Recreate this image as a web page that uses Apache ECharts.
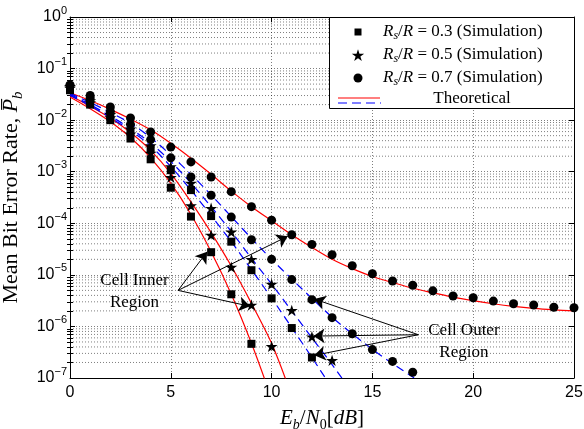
<!DOCTYPE html>
<html>
<head>
<meta charset="utf-8">
<script src="https://cdn.jsdelivr.net/npm/echarts@6/dist/echarts.min.js"></script>
<style>
  html, body { margin: 0; padding: 0; background: #fff; }
  #chart { width: 584px; height: 429px; }
</style>
</head>
<body>
<div id="chart"></div>
<script>
// Eb/N0 [dB]
const ebn0 = [0, 1, 2, 3, 4, 5, 6, 7, 8, 9, 10, 11, 12, 13, 14, 15, 16, 17, 18, 19, 20, 21, 22, 23, 24, 25];

// simulated mean BER, one list per Rs/R and cell region
const sim03Inner = [3.8e-2, 2.0e-2, 1.0e-2, 4.4e-3, 1.74e-3, 4.9e-4, 1.35e-4, 2.75e-5, 4.2e-6, 4.6e-7];
const sim03Outer = [4.3e-2, 2.3e-2, 1.2e-2, 6.0e-3, 2.75e-3, 1.07e-3, 4.4e-4, 1.38e-4, 4.4e-5, 1.23e-5, 3.5e-6, 9.3e-7, 2.5e-7];
const sim05Inner = [4.2e-2, 2.2e-2, 1.12e-2, 5.4e-3, 2.3e-3, 7.8e-4, 2.2e-4, 5.9e-5, 1.41e-5, 2.6e-6, 4.1e-7];
const sim05Outer = [4.5e-2, 2.4e-2, 1.29e-2, 6.8e-3, 3.2e-3, 1.26e-3, 6.0e-4, 1.95e-4, 6.8e-5, 2.0e-5, 6.6e-6, 2.05e-6, 6.3e-7, 2.2e-7];
const sim07Inner = [4.8e-2, 3.0e-2, 1.8e-2, 1.1e-2, 5.9e-3, 3.0e-3, 1.55e-3, 7.9e-4, 4.1e-4, 2.1e-4, 1.15e-4, 6.0e-5, 3.9e-5, 2.45e-5, 1.5e-5, 1.05e-5, 7.6e-6, 6.3e-6, 4.9e-6, 3.9e-6, 3.6e-6, 3.1e-6, 2.75e-6, 2.6e-6, 2.35e-6, 2.3e-6];
const sim07Outer = [4.7e-2, 2.7e-2, 1.48e-2, 8.3e-3, 4.2e-3, 1.86e-3, 7.9e-4, 3.5e-4, 1.32e-4, 4.8e-5, 2.0e-5, 8.1e-6, 3.3e-6, 1.48e-6, 7.2e-7, 3.55e-7, 2.1e-7, 1.29e-7];

// theoretical curves (red = inner, blue dashed = outer)
const theo03Inner = [2.8e-2, 1.66e-2, 9.3e-3, 4.6e-3, 1.86e-3, 6.0e-4, 1.48e-4, 2.8e-5, 4.2e-6, 4.7e-7, 4.0e-8];
const theo05Inner = [3.0e-2, 1.86e-2, 1.1e-2, 5.75e-3, 2.6e-3, 9.3e-4, 2.6e-4, 6.6e-5, 1.48e-5, 2.8e-6, 4.7e-7, 4.5e-8];
const theo07Inner = [3.4e-2, 2.4e-2, 1.62e-2, 1.05e-2, 6.5e-3, 3.55e-3, 1.82e-3, 8.9e-4, 4.2e-4, 2.1e-4, 1.12e-4, 6.0e-5, 3.4e-5, 2.0e-5, 1.32e-5, 9.3e-6, 7.1e-6, 5.5e-6, 4.5e-6, 3.7e-6, 3.16e-6, 2.75e-6, 2.45e-6, 2.24e-6, 2.1e-6, 2.0e-6];
const theo03Outer = [3.0e-2, 1.9e-2, 1.12e-2, 6.3e-3, 3.16e-3, 1.26e-3, 4.4e-4, 1.41e-4, 4.4e-5, 1.26e-5, 3.55e-6, 9.5e-7, 2.5e-7, 6.3e-8];
const theo05Outer = [3.16e-2, 2.0e-2, 1.2e-2, 6.9e-3, 3.6e-3, 1.58e-3, 6.0e-4, 2.1e-4, 6.9e-5, 2.1e-5, 6.6e-6, 2.0e-6, 6.0e-7, 1.82e-7, 5.2e-8];
const theo07Outer = [3.3e-2, 2.2e-2, 1.41e-2, 8.7e-3, 4.6e-3, 2.1e-3, 8.9e-4, 3.55e-4, 1.35e-4, 5.1e-5, 2.0e-5, 8.3e-6, 3.5e-6, 1.51e-6, 7.2e-7, 3.6e-7, 1.9e-7, 1.05e-7, 5.8e-8];

// axes
const xMin = 0, xMax = 25, xStep = 5;
const yMin = 1e-7, yMax = 1;
const yDecades = [-7, -6, -5, -4, -3, -2, -1, 0];

// annotations, in data units
const innerArrowFrom = [5.36, 5.0e-6];
const innerArrowTo = [[6.8, 2.8e-5], [10.8, 5.6e-5], [8.93, 2.45e-6]];
const outerArrowFrom = [17.28, 6.9e-7];
const outerArrowTo = [[12.12, 3.4e-6], [12.08, 6.5e-7], [12.12, 2.75e-7]];
const innerLabelAt = [3.2, 4.8e-6];
const outerLabelAt = [19.54, 5.0e-7];

const SERIF = 'Liberation Serif';
const SANS = 'Liberation Sans';
const STAR = 'path://M50 0 L61.23 34.55 L97.55 34.55 L68.17 55.9 L79.39 90.45 L50 69.1 L20.61 90.45 L31.83 55.9 L2.45 34.55 L38.77 34.55 Z';

function pts(vals) {
  return vals.map((v, i) => [ebn0[i], v]);
}

// minor log ticks 2..9 in every decade
const minorVals = [];
yDecades.slice(0, -1).forEach(d => {
  for (let m = 2; m <= 9; m++) minorVals.push(m * Math.pow(10, d));
});
// minor grid as broken horizontal segments across the x range
const minorGridData = [];
minorVals.forEach(v => {
  minorGridData.push([xMin, v], [xMax, v], [xMax, '-']);
});

const gridDot = { color: '#000', width: 1, type: [1, 2], opacity: 0.5 };

function theo(name, vals, color, dashed) {
  return {
    name: name, type: 'line', data: pts(vals), showSymbol: false, smooth: 0.3,
    clip: true, z: 2, silent: true,
    lineStyle: { color: color, width: 1.2, type: dashed ? [8, 5] : 'solid' }
  };
}
function sim(name, vals, symbol, size) {
  return {
    name: name, type: 'scatter', data: pts(vals), symbol: symbol, symbolSize: size,
    symbolKeepAspect: true, z: 3, silent: true,
    itemStyle: { color: '#000', opacity: 1 }
  };
}

const tickRich = {
  b: { fontSize: 16, fontFamily: SANS, color: '#000', lineHeight: 24, verticalAlign: 'middle' },
  e: { fontSize: 11, fontFamily: SANS, color: '#000', lineHeight: 10, verticalAlign: 'top' }
};
function nameRich(size) {
  const sub = Math.round(size * 0.68);
  return {
    n: { fontSize: size, fontFamily: SERIF, color: '#000', lineHeight: size + 7 },
    i: { fontSize: size, fontFamily: SERIF, fontStyle: 'italic', color: '#000', lineHeight: size + 7 },
    s: { fontSize: sub, fontFamily: SERIF, fontStyle: 'italic', color: '#000', lineHeight: sub + 4, verticalAlign: 'bottom' },
    s0: { fontSize: sub, fontFamily: SERIF, color: '#000', lineHeight: sub + 4, verticalAlign: 'bottom' }
  };
}

const chart = echarts.init(document.getElementById('chart'), null, { renderer: 'canvas' });

const arrowLines = [];
innerArrowTo.forEach(t => arrowLines.push([{ coord: innerArrowFrom }, { coord: t }]));
outerArrowTo.forEach(t => arrowLines.push([{ coord: outerArrowFrom }, { coord: t }]));

function yAxisBase(pos) {
  return {
    type: 'log', logBase: 10, min: yMin, max: yMax, position: pos, splitNumber: 7,
    axisLine: { show: true, onZero: false, lineStyle: { color: '#000', width: 1 } },
    axisLabel: { show: false },
    splitLine: { show: false }
  };
}

const option = {
  backgroundColor: '#fff',
  animation: false,
  grid: { left: 70, right: 10, top: 17, bottom: 51, containLabel: false, outerBoundsMode: 'none' },
  xAxis: [
    {
      type: 'value', min: xMin, max: xMax, interval: xStep, position: 'bottom',
      axisLine: { onZero: false, lineStyle: { color: '#000', width: 1 } },
      axisTick: { inside: true, length: 5, lineStyle: { color: '#000' } },
      axisLabel: { color: '#000', fontSize: 16, fontFamily: SANS, margin: 7 },
      splitLine: { show: true, lineStyle: gridDot },
      name: '{i|E}{s|b}{n|/}{i|N}{s0|0}{n|[}{i|dB}{n|]}',
      nameLocation: 'middle', nameGap: 26,
      nameTextStyle: { rich: nameRich(21) }
    },
    {
      type: 'value', min: xMin, max: xMax, interval: xStep, position: 'top',
      axisLine: { onZero: false, lineStyle: { color: '#000', width: 1 } },
      axisTick: { inside: true, length: 5, lineStyle: { color: '#000' } },
      axisLabel: { show: false },
      splitLine: { show: false }
    }
  ],
  yAxis: [
    Object.assign(yAxisBase('left'), {
      axisTick: { inside: true, length: 5, lineStyle: { color: '#000' } },
      axisLabel: {
        show: true, margin: 3, color: '#000',
        formatter: v => {
          const e = Math.round(Math.log10(v));
          return '{b|10}{e|' + (e < 0 ? '\u2212' + (-e) : e) + '}';
        },
        rich: tickRich
      },
      splitLine: { show: true, lineStyle: gridDot },
      name: '{n|Mean Bit Error Rate, }{i|P\u0305}{s|b}',
      nameLocation: 'middle', nameGap: 29, nameRotate: 90,
      nameTextStyle: { rich: nameRich(22) }
    }),
    Object.assign(yAxisBase('left'), {
      axisLine: { show: false },
      axisTick: { inside: true, length: 3, customValues: minorVals, lineStyle: { color: '#000' } }
    }),
    Object.assign(yAxisBase('right'), {
      axisTick: { inside: true, length: 5, lineStyle: { color: '#000' } }
    }),
    Object.assign(yAxisBase('right'), {
      axisLine: { show: false },
      axisTick: { inside: true, length: 3, customValues: minorVals, lineStyle: { color: '#000' } }
    })
  ],
  series: [
    {
      name: 'minorGrid', type: 'line', data: minorGridData, silent: true, z: 1,
      showSymbol: false, connectNulls: false, clip: true,
      lineStyle: gridDot
    },
    theo('theo03Inner', theo03Inner, '#ff0000', false),
    theo('theo05Inner', theo05Inner, '#ff0000', false),
    theo('theo07Inner', theo07Inner, '#ff0000', false),
    theo('theo03Outer', theo03Outer, '#0000ff', true),
    theo('theo05Outer', theo05Outer, '#0000ff', true),
    theo('theo07Outer', theo07Outer, '#0000ff', true),
    sim('sim03Inner', sim03Inner, 'rect', 8),
    sim('sim03Outer', sim03Outer, 'rect', 8),
    sim('sim05Inner', sim05Inner, STAR, 12),
    sim('sim05Outer', sim05Outer, STAR, 12),
    sim('sim07Inner', sim07Inner, 'circle', 9),
    sim('sim07Outer', sim07Outer, 'circle', 9),
    {
      name: 'notes', type: 'line', data: [], silent: true, z: 5,
      markLine: {
        silent: true, animation: false,
        symbol: ['none', 'arrow'], symbolSize: 11,
        label: { show: false },
        lineStyle: { color: '#000', width: 1, type: 'solid' },
        data: arrowLines
      },
      markPoint: {
        silent: true, animation: false,
        symbol: 'rect', symbolSize: 1,
        itemStyle: { color: 'rgba(0,0,0,0)' },
        label: {
          show: true, position: 'inside', color: '#000',
          fontFamily: SERIF, fontSize: 17, lineHeight: 22, align: 'center'
        },
        data: [
          { coord: innerLabelAt, label: { formatter: 'Cell Inner\nRegion' } },
          { coord: outerLabelAt, label: { formatter: 'Cell Outer\nRegion' } }
        ]
      }
    }
  ]
};

// legend box (drawn as graphics)
function starPoints(cx, cy, R) {
  const p = [];
  for (let k = 0; k < 10; k++) {
    const r = k % 2 === 0 ? R : R * 0.382;
    const a = -Math.PI / 2 + k * Math.PI / 5;
    p.push([cx + r * Math.cos(a), cy + r * Math.sin(a) + R * 0.1]);
  }
  return p;
}
const legRich = {
  n: { fontSize: 17, fontFamily: SERIF, fill: '#000', lineHeight: 20 },
  i: { fontSize: 17, fontFamily: SERIF, fontStyle: 'italic', fill: '#000', lineHeight: 20 },
  s: { fontSize: 12, fontFamily: SERIF, fontStyle: 'italic', fill: '#000', lineHeight: 14, verticalAlign: 'bottom' }
};
function legText(y, ratio) {
  return {
    type: 'text', z: 101, x: 383, y: y,
    style: {
      text: '{i|R}{s|s}{n|/}{i|R}{n| = ' + ratio + ' (Simulation)}',
      rich: legRich, verticalAlign: 'middle', align: 'left'
    }
  };
}
option.graphic = [
  { type: 'rect', z: 100, shape: { x: 329.5, y: 17.5, width: 245, height: 91 }, style: { fill: '#fff', stroke: '#000', lineWidth: 1 } },
  { type: 'rect', z: 101, shape: { x: 354.5, y: 28.5, width: 7, height: 7 }, style: { fill: '#000' } },
  { type: 'polygon', z: 101, shape: { points: starPoints(358, 55, 6.5) }, style: { fill: '#000' } },
  { type: 'circle', z: 101, shape: { cx: 358, cy: 78, r: 4.5 }, style: { fill: '#000' } },
  legText(32, '0.3'),
  legText(55, '0.5'),
  legText(78, '0.7'),
  { type: 'line', z: 101, shape: { x1: 338, y1: 98, x2: 380, y2: 98 }, style: { stroke: '#ff0000', lineWidth: 1.2 } },
  { type: 'line', z: 101, shape: { x1: 338, y1: 103, x2: 381, y2: 103 }, style: { stroke: '#0000ff', lineWidth: 1.2, lineDash: [9, 5] } },
  { type: 'text', z: 101, x: 472, y: 99, style: { text: 'Theoretical', fontSize: 17, fontFamily: SERIF, fill: '#000', align: 'center', verticalAlign: 'middle' } }
];

chart.setOption(option);
</script>
</body>
</html>
